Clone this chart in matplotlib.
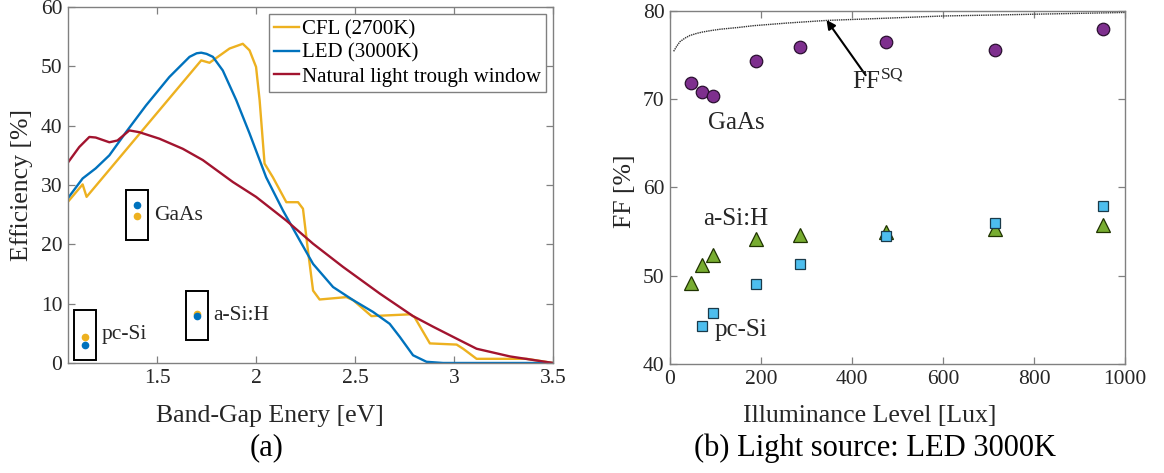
import matplotlib
matplotlib.use("Agg")
import matplotlib.pyplot as plt
from matplotlib.patches import Rectangle

plt.rcParams['font.family'] = ['Liberation Serif', 'DejaVu Serif']
plt.rcParams['mathtext.fontset'] = 'custom'
plt.rcParams['mathtext.rm'] = 'Liberation Serif'
plt.rcParams['mathtext.it'] = 'Liberation Serif:italic'

# ---------- data: (a) efficiency vs band gap ----------
cfl_eg = [1.048, 1.124, 1.144, 1.723, 1.765, 1.866, 1.933, 1.967, 2.0, 2.018, 2.043, 2.085,
          2.153, 2.212, 2.237, 2.262, 2.288, 2.321, 2.456, 2.49, 2.583, 2.777, 2.80, 2.878,
          3.013, 3.046, 3.114, 3.367, 3.5]
cfl_eff = [27.1, 30.1, 28.0, 51.0, 50.6, 53.0, 53.8, 52.7, 49.9, 44.3, 33.6, 31.3,
           27.1, 27.1, 26.0, 19.0, 12.2, 10.7, 11.1, 10.6, 7.9, 8.2, 7.75, 3.3,
           3.1, 2.4, 0.7, 0.7, 0.0]

led_eg = [1.048, 1.124, 1.19, 1.259, 1.343, 1.444, 1.562, 1.664, 1.70, 1.723, 1.75, 1.782,
          1.832, 1.90, 1.967, 2.051, 2.136, 2.22, 2.288, 2.389, 2.49, 2.591, 2.675, 2.726,
          2.793, 2.861, 2.945, 3.5]
led_eff = [27.7, 31.1, 32.8, 35.0, 38.9, 43.4, 48.2, 51.6, 52.2, 52.3, 52.1, 51.6,
           49.3, 44.3, 38.7, 31.3, 25.7, 20.7, 16.7, 12.8, 10.6, 8.6, 6.6, 4.4,
           1.3, 0.2, 0.0, 0.0]

nat_eg = [1.048, 1.107, 1.158, 1.19, 1.259, 1.30, 1.36, 1.41, 1.512, 1.63, 1.731, 1.883,
          2.0, 2.153, 2.288, 2.439, 2.625, 2.793, 2.895, 3.013, 3.114, 3.283, 3.5]
nat_eff = [33.7, 36.4, 38.1, 38.0, 37.2, 37.5, 39.2, 38.9, 37.8, 36.1, 34.2, 30.5,
           28.0, 24.0, 20.1, 16.2, 11.7, 7.9, 6.1, 4.1, 2.4, 1.1, 0.0]

# measured cells: name, band gap, eff under CFL, eff under LED
cell_names = ['GaAs', 'pc-Si', 'a-Si:H']
cell_eg = [1.399, 1.137, 1.70]
cell_eff_cfl = [24.8, 4.4, 8.3]
cell_eff_led = [26.7, 3.1, 7.9]

# ---------- data: (b) fill factor vs illuminance ----------
gaas_lux = [46, 70, 94, 189, 285, 475, 714, 951]
gaas_ff = [71.85, 70.85, 70.35, 74.35, 75.85, 76.5, 75.5, 77.9]
asi_lux = [46, 70, 94, 189, 285, 475, 714, 951]
asi_ff = [49.2, 51.2, 52.3, 54.15, 54.6, 54.9, 55.3, 55.7]
pcsi_lux = [70, 94, 189, 285, 475, 714, 951]
pcsi_ff = [44.3, 45.8, 49.05, 51.3, 54.5, 56.0, 57.9]
ffsq_lux = [8, 15, 22, 33, 44, 60, 73, 90, 110, 150, 183, 257, 345, 450, 600, 800, 1000]
ffsq_val = [75.4, 76.0, 76.5, 76.9, 77.2, 77.45, 77.6, 77.75, 77.9, 78.1, 78.3, 78.6,
            78.9, 79.1, 79.4, 79.6, 79.8]

C_CFL = '#EDB120'
C_LED = '#0072BD'
C_NAT = '#A2142F'
SPINE = '#808080'
TXT = '#262626'

fig = plt.figure(figsize=(11.64, 4.73), dpi=100)
ax1 = fig.add_axes([0.0584, 0.2326, 0.4167, 0.7526])
ax2 = fig.add_axes([0.5756, 0.2304, 0.3909, 0.7470])

def style_axes(ax):
    for s in ax.spines.values():
        s.set_color(SPINE)
        s.set_linewidth(1.0)
    ax.tick_params(direction='in', top=True, right=True, length=5, width=0.9,
                   color=SPINE, labelsize=15.5, labelcolor=TXT, pad=4)

# ---------- (a) ----------
ax1.plot(cfl_eg, cfl_eff, color=C_CFL, lw=1.7, label='CFL (2700K)')
ax1.plot(led_eg, led_eff, color=C_LED, lw=1.7, label='LED (3000K)')
ax1.plot(nat_eg, nat_eff, color=C_NAT, lw=1.7, label='Natural light trough window')

# little boxes round each measured cell
for name, x, yc, yl in zip(cell_names, cell_eg, cell_eff_cfl, cell_eff_led):
    ax1.plot([x], [yc], 'o', color=C_CFL, ms=4.5, zorder=4)
    ax1.plot([x], [yl], 'o', color=C_LED, ms=4.5, zorder=4)
    y0 = max(min(yc, yl) - 4.1, 0.55)
    ax1.add_patch(Rectangle((x - 0.056, y0), 0.113, 8.4,
                            fill=False, ec='black', lw=1.4, zorder=3))
    ax1.text(x + 0.085, y0 + 4.2, name, fontsize=15.5, color=TXT,
             ha='left', va='center')

ax1.set_xlim(1.05, 3.5)
ax1.set_ylim(0, 60)
ax1.set_xticks([1.5, 2, 2.5, 3, 3.5])
ax1.set_xticklabels(['1.5', '2', '2.5', '3', '3.5'])
ax1.set_yticks(range(0, 61, 10))
style_axes(ax1)
leg = ax1.legend(loc='upper right', fontsize=15, handlelength=1.2, handletextpad=0.1,
                 borderpad=0.25, labelspacing=0.2, fancybox=False, framealpha=1,
                 borderaxespad=0.35, edgecolor=SPINE)
leg.get_frame().set_linewidth(1.0)

# ---------- (b) ----------
ax2.plot(ffsq_lux, ffsq_val, ls=(0, (1, 0.6)), color='#333333', lw=1.0)
ax2.plot(gaas_lux, gaas_ff, 'o', ms=9, mfc='#7E2F8E', mec='#2a1030', mew=0.9)
ax2.plot(asi_lux, asi_ff, '^', ms=10, mfc='#77AC30', mec='#1f3300', mew=0.9)
ax2.plot(pcsi_lux, pcsi_ff, 's', ms=7, mfc='#4DBEEE', mec='#1a3a4a', mew=0.9)

ax2.annotate('', xy=(344, 78.95), xytext=(430, 72.7),
             arrowprops=dict(arrowstyle='-|>', color='black', lw=1.5,
                             mutation_scale=13, shrinkA=0, shrinkB=0))
ax2.text(400, 71.9, r'FF$^{\mathrm{SQ}}$', fontsize=18, color=TXT, ha='left', va='center')
ax2.text(84, 67.3, 'GaAs', fontsize=18, color=TXT, ha='left', va='center')
ax2.text(73, 56.4, 'a-Si:H', fontsize=18, color=TXT, ha='left', va='center')
ax2.text(99, 43.8, 'pc-Si', fontsize=18, color=TXT, ha='left', va='center')

ax2.set_xlim(0, 1000)
ax2.set_ylim(40, 80)
ax2.set_xticks(range(0, 1001, 200))
ax2.set_yticks(range(40, 81, 10))
style_axes(ax2)

# ---------- labels & captions ----------
fig.text(22 / 1164, 1 - 185 / 473, 'Efficiency [%]', rotation=90, fontsize=18.5,
         color=TXT, ha='center', va='center')
fig.text(625 / 1164, 1 - 191 / 473, 'FF [%]', rotation=90, fontsize=18.5,
         color=TXT, ha='center', va='center')
fig.text(270 / 1164, 1 - 416 / 473, 'Band-Gap Enery [eV]', fontsize=18.5,
         color=TXT, ha='center', va='center')
fig.text(870 / 1164, 1 - 416 / 473, 'Illuminance Level [Lux]', fontsize=18.5,
         color=TXT, ha='center', va='center')
fig.text(267 / 1164, 1 - 448 / 473, '(a)', fontsize=22, color='black',
         ha='center', va='center')
fig.text(875 / 1164, 1 - 448 / 473, '(b) Light source: LED 3000K', fontsize=22,
         color='black', ha='center', va='center')

fig.savefig('out.png', dpi=100)
